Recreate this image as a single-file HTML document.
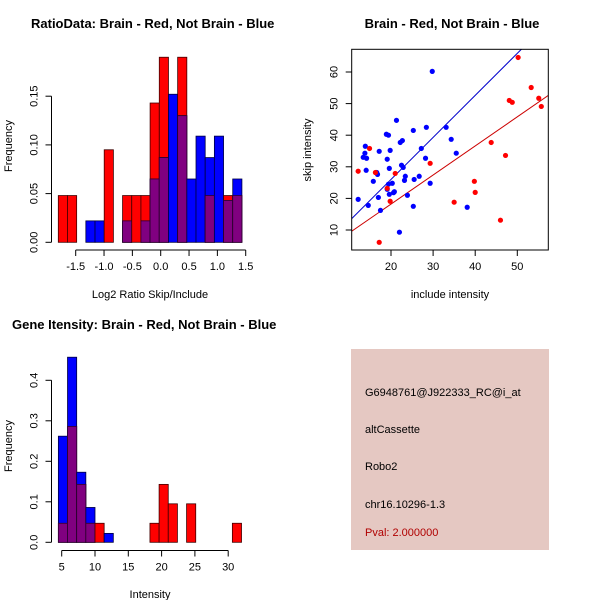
<!DOCTYPE html>
<html><head><meta charset="utf-8"><style>
html,body{margin:0;padding:0;background:#fff;}
svg{display:block;font-family:"Liberation Sans",sans-serif;}
</style></head><body>
<svg id="c" width="600" height="600" xmlns="http://www.w3.org/2000/svg">
<rect width="600" height="600" fill="#fff"/>
<g id="p1"></g>
<g id="p2"></g>
<g id="p3"></g>
<g>
<rect x="351" y="349" width="198" height="201" fill="#e5c8c2"/>
<text x="365" y="396" font-size="11">G6948761@J922333_RC@i_at</text>
<text x="365" y="433" font-size="11">altCassette</text>
<text x="365" y="470" font-size="11">Robo2</text>
<text x="365" y="508" font-size="11">chr16.10296-1.3</text>
<text x="365" y="536" font-size="11" fill="#b00000">Pval: 2.000000</text>
</g>
</svg>
<script>
// ---- Panel 1 data: ratio histogram ----
const ratioBinStart = -1.807;
const ratioBinWidth = 0.162;
const ratioRed  = [0.048,0.048,0,0,0,0.095,0,0.048,0.048,0.048,0.143,0.190,0,0.190,0,0,0.048,0,0.048,0.048];
const ratioBlue = [0,0,0,0.022,0.022,0,0,0.022,0,0.022,0.065,0.087,0.152,0.130,0.065,0.109,0.087,0.109,0.043,0.065];
const ratioXTicks = [-1.5,-1.0,-0.5,0.0,0.5,1.0,1.5];
const ratioXTickLabels = ["-1.5","-1.0","-0.5","0.0","0.5","1.0","1.5"];
const ratioYTicks = [0,0.05,0.10,0.15];
const ratioYTickLabels = ["0.00","0.05","0.10","0.15"];
// ---- Panel 2 data: scatter ----
const blueX = [29.8,21.3,25.3,28.4,33.1,18.9,19.4,34.3,22.2,22.7,13.9,27.2,19.8,17.2,13.8,35.5,13.4,14.2,19.1,28.2,22.5,22.9,19.6,14.1,16.6,16.8,23.4,26.7,23.2,25.5,15.8,20.3,19.4,29.3,19.1,20.8,20.6,19.6,23.9,17.0,12.2,14.6,25.3,38.1,17.5,22.0];
const blueY = [60.2,44.7,41.5,42.5,42.5,40.3,40.0,38.7,37.7,38.3,36.5,35.8,35.2,34.9,34.3,34.3,33.0,32.7,32.4,32.7,30.5,29.8,29.5,28.9,28.2,27.6,27.0,27.0,25.7,26.0,25.4,24.8,24.5,24.8,22.9,22.1,21.8,21.3,21.0,20.3,19.7,17.8,17.5,17.2,16.2,9.3];
const redX = [50.2,53.3,48.1,48.8,55.1,55.7,43.8,14.9,47.2,29.3,12.2,16.3,21.0,39.8,40.0,19.1,19.8,35.0,46.0,17.2];
const redY = [64.6,55.1,51.0,50.4,51.7,49.1,37.7,35.8,33.6,31.1,28.6,28.2,27.9,25.4,21.9,23.2,19.1,18.8,13.1,6.1];
const fitIntercepts = [-0.6,-0.2];
const fitSlopes = [1.33,0.92];
const scatXTicks = [20,30,40,50];
const scatYTicks = [10,20,30,40,50,60];
// ---- Panel 3 data: intensity histogram ----
const intBinStart = 4.5;
const intBinWidth = 1.375;
const intRed  = [0.047,0.286,0.143,0.047,0.047,0,0,0,0,0,0.047,0.143,0.095,0,0.095,0,0,0,0,0.047];
const intBlue = [0.262,0.457,0.173,0.086,0,0.022,0,0,0,0,0,0,0,0,0,0,0,0,0,0];
const intXTicks = [5,10,15,20,25,30];
const intYTicks = [0,0.1,0.2,0.3,0.4];
const intYTickLabels = ["0.0","0.1","0.2","0.3","0.4"];

const NS="http://www.w3.org/2000/svg";
function mk(parent,tag,attrs,txt){const e=document.createElementNS(NS,tag);for(const k in attrs)e.setAttribute(k,attrs[k]);if(txt!==undefined)e.textContent=txt;parent.appendChild(e);return e;}

function histogram(g,opt){
  const sx=v=>opt.x0px+(v-opt.x0)*opt.xs, sy=v=>opt.base-v*opt.ys;
  const n=Math.max(opt.red.length,opt.blue.length);
  for(let i=0;i<n;i++){
    const a=opt.binStart+i*opt.binWidth, x1=sx(a), x2=sx(a+opt.binWidth);
    const r=opt.red[i]||0,b=opt.blue[i]||0;
    if(r>0){const e=mk(g,'rect',{x:x1,y:sy(r),width:x2-x1,height:opt.base-sy(r),fill:'#ff0000',stroke:'#400000','stroke-width':0.8});
      }
    if(b>0){const e=mk(g,'rect',{x:x1,y:sy(b),width:x2-x1,height:opt.base-sy(b),fill:'#0000ff',stroke:'#000040','stroke-width':0.8});
      }
    if(r>0&&b>0){const m=Math.min(r,b);const e=mk(g,'rect',{x:x1,y:sy(m),width:x2-x1,height:opt.base-sy(m),fill:'#800080',stroke:'#300030','stroke-width':0.8});
      }
  }
  const xa=mk(g,'g',{});
  mk(xa,'line',{x1:sx(opt.xTicks[0]),x2:sx(opt.xTicks[opt.xTicks.length-1]),y1:opt.xAxisY,y2:opt.xAxisY,stroke:'#000'});
  opt.xTicks.forEach((t,i)=>{mk(xa,'line',{x1:sx(t),x2:sx(t),y1:opt.xAxisY,y2:opt.xAxisY+6,stroke:'#000'});
    mk(xa,'text',{x:sx(t),y:opt.xAxisY+20,'font-size':11,'text-anchor':'middle'},opt.xLabels[i]);});
  const ya=mk(g,'g',{});
  mk(ya,'line',{x1:opt.yAxisX,x2:opt.yAxisX,y1:sy(opt.yTicks[0]),y2:sy(opt.yTicks[opt.yTicks.length-1]),stroke:'#000'});
  opt.yTicks.forEach((t,i)=>{mk(ya,'line',{x1:opt.yAxisX,x2:opt.yAxisX-6,y1:sy(t),y2:sy(t),stroke:'#000'});
    mk(ya,'text',{x:0,y:0,'font-size':11,'text-anchor':'middle',transform:`translate(${opt.yAxisX-14},${sy(t)}) rotate(-90)`},opt.yLabels[i]);});
  const tt=mk(g,'text',{x:opt.titleX,y:opt.titleY,'font-size':13,'font-weight':'bold'},opt.title);
  
  const xl=mk(g,'text',{x:opt.xLabelX,y:opt.xLabelY,'font-size':11,'text-anchor':'middle'},opt.xTitle);
  
  const yl=mk(g,'text',{x:0,y:0,'font-size':11,'text-anchor':'middle',transform:`translate(12,${opt.yLabelY}) rotate(-90)`},'Frequency');
  
}

histogram(document.getElementById('p1'),{red:ratioRed,blue:ratioBlue,binStart:ratioBinStart,binWidth:ratioBinWidth,
  x0:-1.5,x0px:75.7,xs:56.67,base:242.3,ys:974,xTicks:ratioXTicks,xLabels:ratioXTickLabels,yTicks:ratioYTicks,yLabels:ratioYTickLabels,
  xAxisY:250,yAxisX:51.5,title:'RatioData: Brain - Red, Not Brain - Blue',titleX:31,titleY:28,xTitle:'Log2 Ratio Skip/Include',xLabelX:150,xLabelY:298,yLabelY:146});

histogram(document.getElementById('p3'),{red:intRed,blue:intBlue,binStart:intBinStart,binWidth:intBinWidth,
  x0:5,x0px:61.7,xs:6.66,base:542.3,ys:405,xTicks:intXTicks,xLabels:intXTicks.map(String),yTicks:intYTicks,yLabels:intYTickLabels,
  xAxisY:550.5,yAxisX:51.5,title:'Gene Itensity: Brain - Red, Not Brain - Blue',titleX:12,titleY:329,xTitle:'Intensity',xLabelX:150,xLabelY:598,yLabelY:446});

(function(){
  const g=document.getElementById('p2');
  const L=351.7,R=548.3,T=49.3,B=250;
  const sx=v=>391+(v-20)*4.21, sy=v=>230-(v-10)*3.16;
  const dataXmin=(L-391)/4.21+20, dataXmax=(R-391)/4.21+20;
  const cp=mk(g,'clipPath',{id:'clipS'});mk(cp,'rect',{x:L,y:T,width:R-L,height:B-T});
  const lc=['#0000cc','#cc0000'];
  fitIntercepts.forEach((a,i)=>{const l=mk(g,'line',{x1:sx(dataXmin),y1:sy(a+fitSlopes[i]*dataXmin),x2:sx(dataXmax),y2:sy(a+fitSlopes[i]*dataXmax),stroke:lc[i],'stroke-width':1,'clip-path':'url(#clipS)'});
    });
  blueX.forEach((x,i)=>{const c=mk(g,'circle',{cx:sx(x),cy:sy(blueY[i]),r:2.6,fill:'#0000ff'});
    });
  redX.forEach((x,i)=>{const c=mk(g,'circle',{cx:sx(x),cy:sy(redY[i]),r:2.6,fill:'#ff0000'});
    });
  const box=mk(g,'rect',{x:L,y:T,width:R-L,height:B-T,fill:'none',stroke:'#000'});
  
  scatXTicks.forEach(t=>{mk(g,'line',{x1:sx(t),x2:sx(t),y1:B,y2:B+6,stroke:'#000'});
    mk(g,'text',{x:sx(t),y:B+20,'font-size':11,'text-anchor':'middle'},String(t));});
  scatYTicks.forEach(t=>{mk(g,'line',{x1:L,x2:L-6,y1:sy(t),y2:sy(t),stroke:'#000'});
    mk(g,'text',{x:0,y:0,'font-size':11,'text-anchor':'middle',transform:`translate(${L-14},${sy(t)}) rotate(-90)`},String(t));});
  const t=mk(g,'text',{x:452,y:28,'font-size':13,'font-weight':'bold','text-anchor':'middle'},'Brain - Red, Not Brain - Blue');
  
  const xl=mk(g,'text',{x:450,y:298,'font-size':11,'text-anchor':'middle'},'include intensity');
  
  const yl=mk(g,'text',{x:0,y:0,'font-size':11,'text-anchor':'middle',transform:'translate(311,150) rotate(-90)'},'skip intensity');
  
})();
</script>
</body></html>
